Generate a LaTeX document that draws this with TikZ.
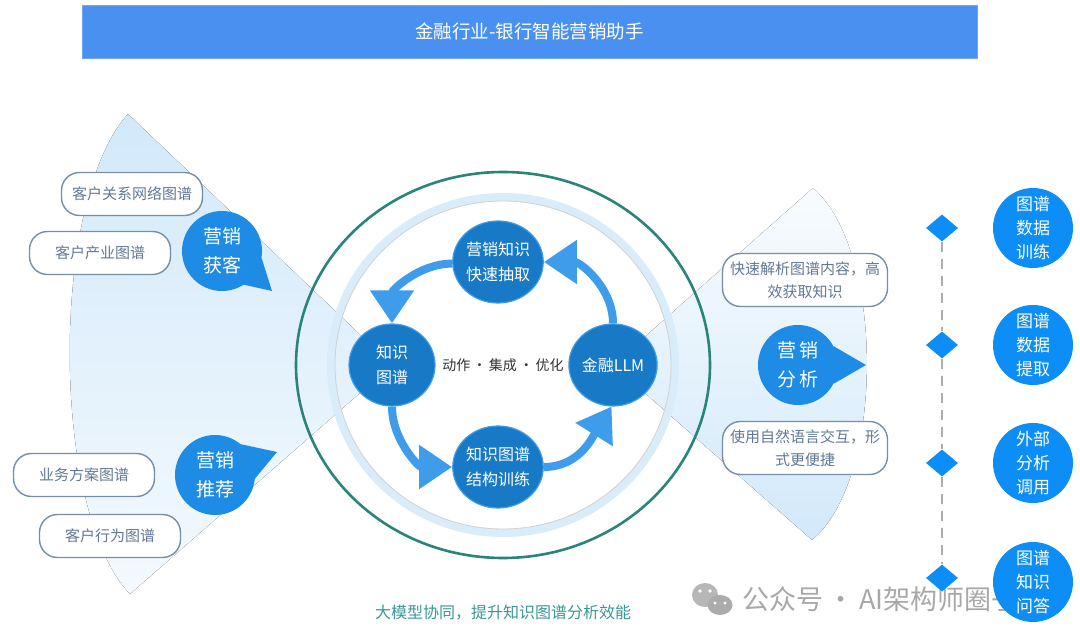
\documentclass[tikz,border=0pt]{standalone}
\usepackage{fontspec}
\setmainfont{Noto Sans CJK SC}
\usetikzlibrary{arrows.meta,positioning,shapes.geometric}
\definecolor{barblue}{RGB}{74,144,240}
\definecolor{coreblue}{RGB}{24,121,198}
\definecolor{bubblue}{RGB}{30,140,228}
\definecolor{dotblue}{RGB}{12,142,246}
\definecolor{arrblue}{RGB}{62,156,234}
\definecolor{fanblue}{RGB}{210,233,250}
\definecolor{ringblue}{RGB}{216,236,250}
\definecolor{boxline}{RGB}{118,142,168}
\definecolor{boxtext}{RGB}{98,120,150}
\definecolor{rimteal}{RGB}{42,132,122}
\definecolor{captext}{RGB}{58,152,150}
\tikzset{
  titlebar/.style={fill=barblue, draw=barblue!80!white, text=white, minimum width=895pt,
                   minimum height=53pt, font=\fontsize{18.5}{22}\selectfont},
  gbox/.style    ={draw=boxline, line width=1.4pt, rounded corners=18pt, fill=white,
                   text=boxtext, align=center, minimum width=141pt, minimum height=43pt,
                   inner sep=2pt, font=\fontsize{15}{23}\selectfont},
  wbox/.style    ={gbox, minimum width=165pt, minimum height=53pt},
  bubble/.style  ={circle, fill=bubblue, text=white, minimum size=80pt, inner sep=0pt,
                   align=center, font=\fontsize{19}{29}\selectfont},
  core/.style    ={ellipse, fill=coreblue, draw=arrblue, line width=1.2pt, text=white,
                   minimum width=86pt, minimum height=82pt, inner sep=0pt, align=center,
                   font=\fontsize{16}{25}\selectfont},
  endp/.style    ={circle, fill=dotblue, text=white, minimum size=80pt, inner sep=0pt,
                   align=center, font=\fontsize{17}{24}\selectfont},
  gem/.style     ={diamond, fill=dotblue, minimum width=32pt, minimum height=27pt, inner sep=0pt},
  cyc/.style     ={line width=8pt, draw=arrblue, -{Triangle[length=33pt,width=42pt]}},
  vline/.style   ={draw=black!32, line width=2.5pt, dash pattern=on 10pt off 7pt},
}
\begin{document}
\begin{tikzpicture}[x=1pt,y=1pt]
\useasboundingbox (0,0) rectangle (1080,-644);
\fill[white] (0,0) rectangle (1080,-644);
\fill[top color=fanblue, bottom color=fanblue!25] (392,-365) -- (128,-114)
  .. controls (50,-200) and (50,-510) .. (130,-594) -- cycle;
\fill[top color=fanblue!15, bottom color=fanblue] (613,-365) -- (813,-188)
  .. controls (885,-250) and (885,-480) .. (812,-540) -- cycle;
\draw[rimteal, line width=2.6pt] (503,-365) ellipse [x radius=207pt, y radius=193pt];
\draw[ringblue, line width=8pt] (503,-365) ellipse [x radius=172pt, y radius=168pt];
\draw[black!18, line width=0.8pt] (503,-365) ellipse [x radius=168pt, y radius=164pt];

\node[titlebar] (title) at (529.5,-31.5) {金融行业-银行智能营销助手};

\node[core] (ms)  at (498,-262) {营销知识\\快速抽取};
\node[core] (kg)  at (392,-365) {知识\\图谱};
\node[core] (llm) at (613,-365) {金融LLM};
\node[core] (st)  at (498,-467) {知识图谱\\结构训练};
\node[text=black!80, font=\fontsize{14}{18}\selectfont] (mid) at (503,-365) {动作\,·\,集成\,·\,优化};
\draw[cyc] (ms.182) to[out=180,in=90] (kg.north);
\draw[cyc] (kg.south) to[out=-90,in=180] (st.west);
\draw[cyc] (st.east) to[out=0,in=-122] (llm.-92);
\draw[cyc] (llm.north) to[out=90,in=0] (ms.east);

\node[gbox] (crn)  at (132,-194) {客户关系网络图谱};
\node[gbox] (cind) at (100,-253) {客户产业图谱};
\node[gbox] (bsp)  at (84,-475)  {业务方案图谱};
\node[gbox] (cbh)  at (110,-536) {客户行为图谱};
\node[bubble] (hk) at (222,-251) {营销\\获客};
\node[bubble] (tj) at (215,-475) {营销\\推荐};
\fill[bubblue] (hk.-10) -- (272,-291) -- (hk.-57) -- cycle;
\fill[bubblue] (tj.50) -- (277,-452) -- (tj.-5) -- cycle;

\node[wbox] (fast) at (805,-280) {快速解析图谱内容，高\\效获取知识};
\node[wbox] (nl)   at (805,-448) {使用自然语言交互，形\\式更便捷};
\node[bubble] (fx) at (798,-365) {营\,销\\分\,析};
\fill[bubblue] (fx.28) -- (866,-365) -- (fx.-28) -- cycle;

\node[text=captext, font=\fontsize{16}{20}\selectfont] (cap) at (503,-613) {大模型协同，提升知识图谱分析效能};
\fill[black!33, opacity=0.85] (705,-595) ellipse [x radius=13pt, y radius=12pt];
\fill[white] (700,-591) circle (1.8pt) (710,-591) circle (1.8pt);
\fill[black!33] (720,-605) ellipse [x radius=12.5pt, y radius=10pt];
\fill[white] (715,-603) circle (1.6pt) (725,-603) circle (1.6pt);
\node[text=black!40, opacity=0.85, font=\fontsize{27}{32}\selectfont, anchor=west, inner sep=0pt] (wm) at (742,-599) {公众号\,·\,AI架构师圈子};

\node[gem] (d1) at (942,-228) {};
\node[gem] (d2) at (942,-345) {};
\node[gem] (d3) at (942,-463) {};
\node[gem] (d4) at (942,-578) {};
\foreach \a/\b in {d1/d2,d2/d3,d3/d4} \draw[vline] (\a.south) -- (\b.north);
\node[endp] (e1) at (1033,-228) {图谱\\数据\\训练};
\node[endp] (e2) at (1033,-345) {图谱\\数据\\提取};
\node[endp] (e3) at (1033,-463) {外部\\分析\\调用};
\node[endp] (e4) at (1033,-582) {图谱\\知识\\问答};
\end{tikzpicture}
\end{document}
